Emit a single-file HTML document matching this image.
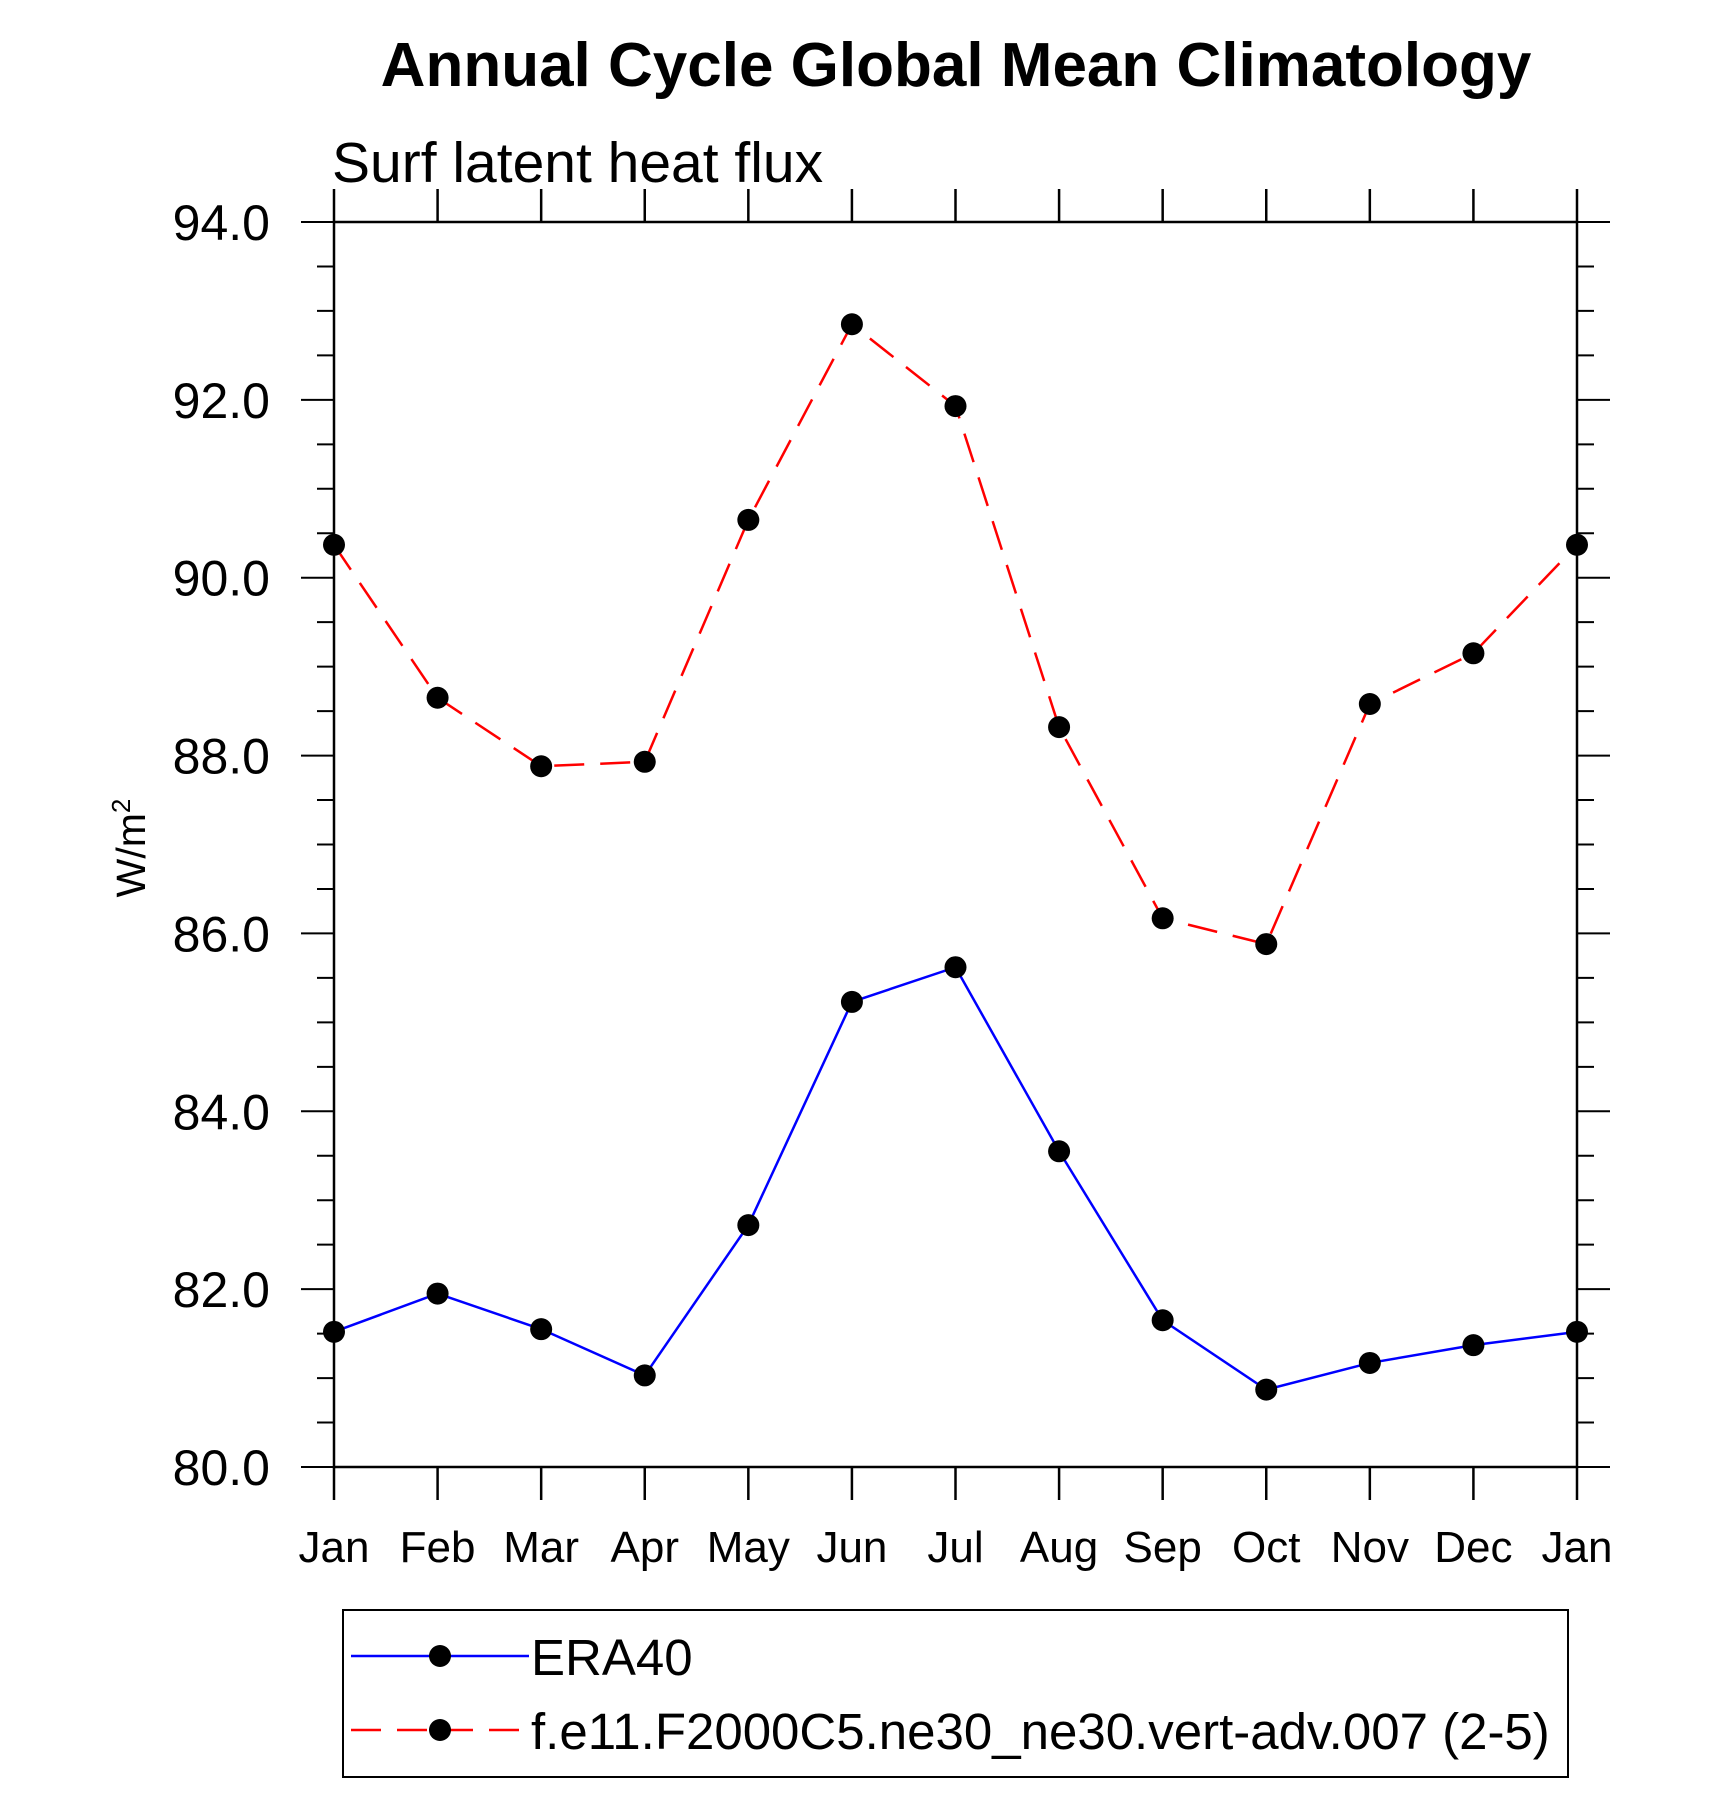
<!DOCTYPE html>
<html><head><meta charset="utf-8"><style>
html,body{margin:0;padding:0;background:#fff;}
svg text{font-family:"Liberation Sans",sans-serif;}
</style></head><body>
<svg id="chart" width="1710" height="1813" viewBox="0 0 1710 1813" xmlns="http://www.w3.org/2000/svg">
<text x="956" y="86" text-anchor="middle" font-size="62" font-weight="bold">Annual Cycle Global Mean Climatology</text>
<text x="332" y="182" font-size="57">Surf latent heat flux</text>
<text transform="translate(145,848) rotate(-90)" text-anchor="middle" font-size="41">W/m<tspan dy="-15" font-size="26">2</tspan></text>
<g id="axes"></g>
<g id="series"></g>
<g>
<rect x="343" y="1610" width="1225" height="167" fill="none" stroke="#000" stroke-width="2"/>
<g>
<line x1="351" y1="1656" x2="529" y2="1656" stroke="#00f" stroke-width="2.5"/>
<circle cx="440" cy="1656" r="11" fill="#000"/>
<text x="531" y="1675" font-size="51">ERA40</text>
</g>
<g>
<line x1="351" y1="1730" x2="529" y2="1730" stroke="#f00" stroke-width="2.5" stroke-dasharray="30,16"/>
<circle cx="440" cy="1730" r="11" fill="#000"/>
<text x="531" y="1749" font-size="51">f.e11.F2000C5.ne30_ne30.vert-adv.007 (2-5)</text>
</g>
</g>
</svg>
<script>
const months = ["Jan","Feb","Mar","Apr","May","Jun","Jul","Aug","Sep","Oct","Nov","Dec","Jan"];
const era40 = [81.52,81.95,81.55,81.03,82.72,85.23,85.62,83.55,81.65,80.87,81.17,81.37,81.52];
const model = [90.37,88.65,87.88,87.93,90.65,92.85,91.93,88.32,86.17,85.88,88.58,89.15,90.37];
const yTicks = [80,82,84,86,88,90,92,94];
const yTickLabels = ["80.0","82.0","84.0","86.0","88.0","90.0","92.0","94.0"];

const NS="http://www.w3.org/2000/svg";
const L=334,R=1577,T=222,B=1467,ymin=80,ymax=94;
const xs=i=>L+(R-L)*i/(months.length-1);
const ys=v=>B-(B-T)*(v-ymin)/(ymax-ymin);
function mk(tag,attrs,parent){const e=document.createElementNS(NS,tag);for(const k in attrs)e.setAttribute(k,attrs[k]);parent.appendChild(e);return e;}
const axes=document.getElementById('axes');
const frame=mk('rect',{x:L,y:T,width:R-L,height:B-T,fill:'none',stroke:'#000','stroke-width':2.5},axes);


months.forEach((m,i)=>{
  const x=xs(i);
  const t1=mk('line',{x1:x,y1:B,x2:x,y2:B+33,stroke:'#000','stroke-width':2.5},axes);
  
  
  const t2=mk('line',{x1:x,y1:T,x2:x,y2:T-33,stroke:'#000','stroke-width':2.5},axes);
  
  
  const tx=mk('text',{x:x,y:1562,'text-anchor':'middle','font-size':44},axes);
  tx.textContent=m;
  
  
});
for(let v=ymin;v<=ymax+1e-9;v+=0.5){
  const y=ys(v);const major=Math.abs(v-Math.round(v/2)*2)<1e-9;const len=major?33:17;
  const a=mk('line',{x1:L,y1:y,x2:L-len,y2:y,stroke:'#000','stroke-width':2},axes);
  
  
  const b=mk('line',{x1:R,y1:y,x2:R+len,y2:y,stroke:'#000','stroke-width':2},axes);
  
  
}
yTicks.forEach((v,i)=>{
  const tx=mk('text',{x:270,y:ys(v)+18,'text-anchor':'end','font-size':50},axes);
  tx.textContent=yTickLabels[i];
  
  
});
const sg=document.getElementById('series');
function drawSeries(vals,color,dash,name){
  const g=mk('g',{},sg);
  
  
  const pts=vals.map((v,i)=>xs(i)+','+ys(v)).join(' ');
  const pl=mk('polyline',{points:pts,fill:'none',stroke:color,'stroke-width':2.5},g);
  if(dash)pl.setAttribute('stroke-dasharray',dash);
  
  
  vals.forEach((v,i)=>{
    const c=mk('circle',{cx:xs(i),cy:ys(v),r:11,fill:'#000'},g);
    
    
  });
}
drawSeries(era40,'#00f',null,'era40-series');
drawSeries(model,'#f00','30,16','model-series');
</script>
</body></html>
